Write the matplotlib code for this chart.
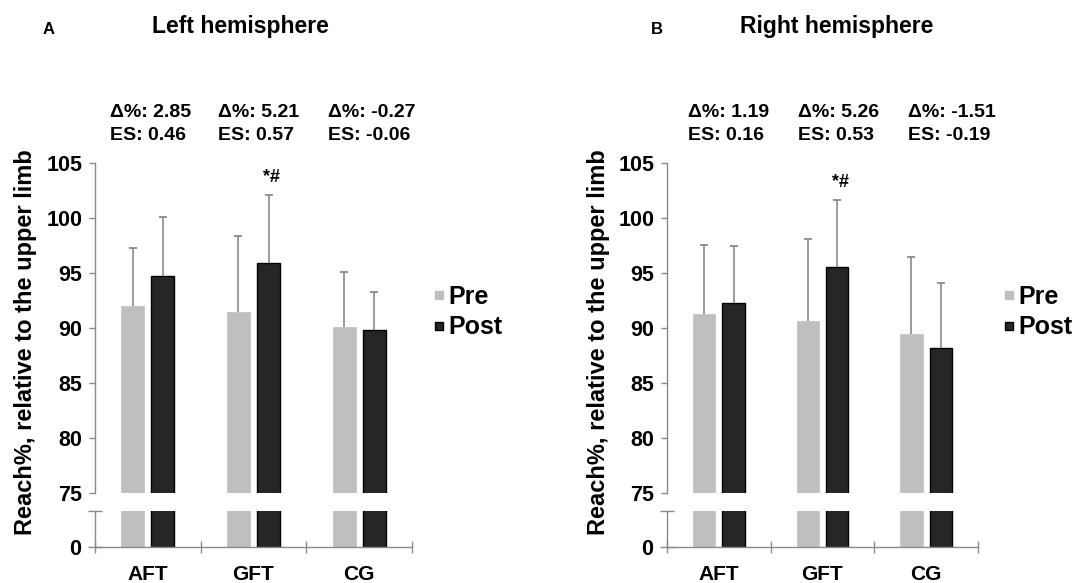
import matplotlib
matplotlib.use("Agg")
import matplotlib.pyplot as plt
import numpy as np
from matplotlib.lines import Line2D

plt.rcParams['font.family'] = ['Liberation Sans', 'DejaVu Sans']
plt.rcParams['font.weight'] = 'bold'

categories = ["AFT", "GFT", "CG"]
series_names = ["Pre", "Post"]

left_pre = [92.0, 91.5, 90.1]
left_pre_sd = [5.3, 6.9, 4.95]
left_post = [94.7, 95.95, 89.8]
left_post_sd = [5.35, 6.1, 3.45]

right_pre = [91.25, 90.65, 89.45]
right_pre_sd = [6.3, 7.45, 7.0]
right_post = [92.25, 95.55, 88.15]
right_post_sd = [5.2, 6.05, 5.95]

left_delta = ["2.85", "5.21", "-0.27"]
left_es = ["0.46", "0.57", "-0.06"]
right_delta = ["1.19", "5.26", "-1.51"]
right_es = ["0.16", "0.53", "-0.19"]

yticks_upper = [75, 80, 85, 90, 95, 100, 105]
sig_mark = "*#"
sig_index = 1

W, H = 1081, 583
fig = plt.figure(figsize=(W / 100, H / 100), dpi=100)

PRE_C = "#bfbfbf"
POST_C = "#262626"
SPINE_C = "#8a8a8a"
ERR_C = "#8a8a8a"


def px_axes(x0, x1, ytop, ybot):
    return fig.add_axes([x0 / W, 1 - ybot / H, (x1 - x0) / W, (ybot - ytop) / H])


def panel(x0, x1, pre, pre_sd, post, post_sd, deltas, ess, text_x, title, title_x, letter, letter_x):
    up = px_axes(x0, x1, 163, 493)
    lo = px_axes(x0, x1, 511, 547)
    x = np.arange(len(categories))
    off, bw = 0.142, 0.215
    for ax in (up, lo):
        ax.bar(x - off, pre, bw, color=PRE_C, edgecolor=PRE_C, linewidth=0.5, zorder=2)
        ax.bar(x + off, post, bw, color=POST_C, edgecolor="black", linewidth=1.0, zorder=2)
        ax.set_xlim(-0.5, len(categories) - 0.5)
        for s in ("top", "right"):
            ax.spines[s].set_visible(False)
        for s in ("left", "bottom"):
            ax.spines[s].set_color(SPINE_C)
            ax.spines[s].set_linewidth(1.0)
        ax.tick_params(colors=SPINE_C, labelcolor="black", labelsize=15.5)
    for xs, vals, sds in ((x - off, pre, pre_sd), (x + off, post, post_sd)):
        vals = np.asarray(vals)
        sds = np.asarray(sds)
        up.errorbar(xs, vals, yerr=[np.zeros(len(vals)), sds], fmt="none", ecolor=ERR_C,
                    elinewidth=1.2, capsize=0, zorder=3)
        up.plot(xs, vals + sds, linestyle="none", marker="_", markersize=6,
                markeredgewidth=1.3, color=ERR_C, zorder=3)
    up.set_ylim(75, 105)
    up.set_yticks(yticks_upper)
    up.spines["bottom"].set_visible(False)
    up.tick_params(axis="x", bottom=False, labelbottom=False)
    up.tick_params(axis="y", direction="out", length=4, width=1.0, pad=5)
    for lab in up.get_yticklabels():
        lab.set_fontweight("bold")

    lo.set_ylim(0, 10)
    lo.set_yticks([0, 10])
    lo.set_yticklabels(["0", ""])
    lo.tick_params(axis="y", direction="inout", length=10, width=1.0, pad=5)
    lo.set_xticks(np.arange(len(categories) + 1) - 0.5, minor=True)
    lo.set_xticks(x)
    lo.set_xticklabels(categories, fontsize=15, fontweight="bold")
    lo.tick_params(axis="x", which="major", length=0, pad=13)
    lo.tick_params(axis="x", which="minor", direction="inout", length=9, width=1.0, colors=SPINE_C)
    for lab in lo.get_yticklabels():
        lab.set_fontweight("bold")

    up.text(x[sig_index] + off + 0.03, post[sig_index] + post_sd[sig_index] + 1.6, sig_mark,
            ha="center", va="center", fontsize=13, fontweight="bold")

    for i in range(len(categories)):
        up.text(text_x[i], 1.152, "Δ%: " + deltas[i], transform=up.transAxes,
                ha="left", va="center", fontsize=14, fontweight="bold")
        up.text(text_x[i], 1.083, "ES: " + ess[i], transform=up.transAxes,
                ha="left", va="center", fontsize=14, fontweight="bold")

    fig.text((x0 - 69) / W, 1 - 342 / H, "Reach%, relative to the upper limb", rotation=90,
             ha="center", va="center", fontsize=17, fontweight="bold")
    fig.text(title_x / W, 1 - 27 / H, title, ha="left", va="center", fontsize=16.5, fontweight="bold")
    fig.text(letter_x / W, 1 - 30 / H, letter, ha="left", va="center", fontsize=12, fontweight="bold")
    return up


up_l = panel(95, 412, left_pre, left_pre_sd, left_post, left_post_sd, left_delta, left_es,
             [0.047, 0.388, 0.735], "Left hemisphere", 152, "A", 43)
up_r = panel(667, 978, right_pre, right_pre_sd, right_post, right_post_sd, right_delta, right_es,
             [0.068, 0.421, 0.775], "Right hemisphere", 740, "B", 651)

handles = [Line2D([], [], marker="s", linestyle="none", markersize=5.5,
                  markerfacecolor=PRE_C, markeredgecolor=PRE_C),
           Line2D([], [], marker="s", linestyle="none", markersize=5.5,
                  markerfacecolor=POST_C, markeredgecolor="black")]
for lx in (433, 1003):
    fig.legend(handles, series_names, loc="center left", bbox_to_anchor=(lx / W, 1 - 312 / H),
               frameon=False, prop={"size": 18, "weight": "bold"}, handlelength=0.5,
               handletextpad=0.1, labelspacing=0.28, borderpad=0, borderaxespad=0)

fig.savefig("out.png", dpi=100)
